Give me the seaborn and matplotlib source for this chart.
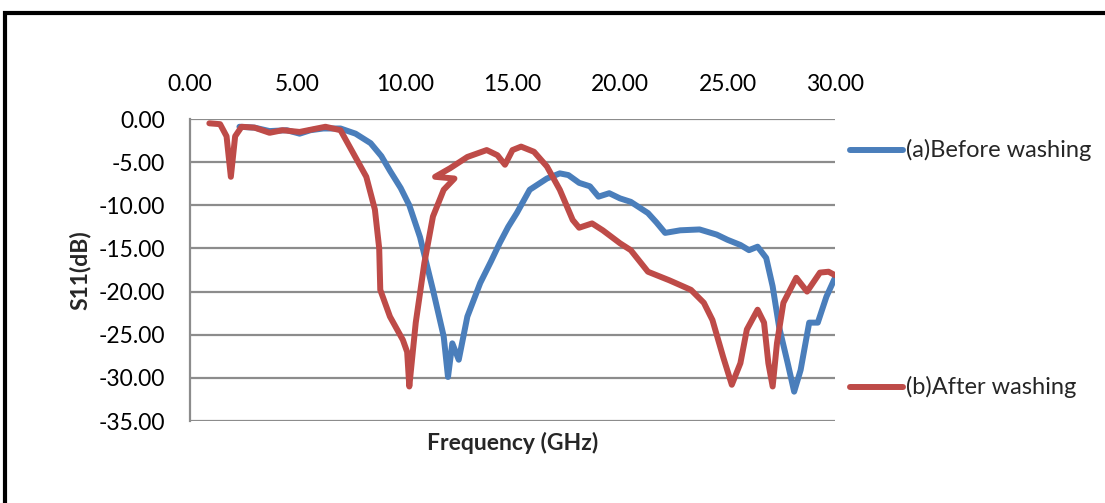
import matplotlib
matplotlib.use("Agg")
import matplotlib.pyplot as plt
from matplotlib.lines import Line2D
from matplotlib.patches import Rectangle
import seaborn as sns
import pandas as pd

before_freq = [2.3, 3.0, 3.7, 4.5, 5.1, 5.6, 6.2, 7.0, 7.7, 8.4, 8.9, 9.3, 9.8, 10.2,
               10.7, 11.3, 11.8, 12.0, 12.2, 12.5, 12.9, 13.5, 14.0, 14.4, 14.8, 15.2,
               15.8, 16.6, 17.2, 17.6, 18.1, 18.6, 19.0, 19.5, 20.0, 20.5, 21.3, 21.7,
               22.1, 22.8, 23.7, 24.5, 25.0, 25.6, 26.0, 26.4, 26.8, 27.1, 27.4, 27.8,
               28.1, 28.4, 28.8, 29.2, 29.6, 30.0]
before_s11 = [-0.9, -1.0, -1.4, -1.3, -1.7, -1.3, -1.1, -1.1, -1.7, -2.8, -4.3, -6.0, -8.0, -10.0,
              -13.7, -19.8, -25.2, -29.9, -26.0, -27.9, -22.9, -19.0, -16.5, -14.4, -12.5, -10.9,
              -8.2, -6.9, -6.3, -6.5, -7.4, -7.8, -9.0, -8.6, -9.2, -9.6, -10.9, -12.0,
              -13.2, -12.9, -12.8, -13.4, -14.0, -14.6, -15.2, -14.8, -16.1, -19.4, -24.1, -28.3,
              -31.6, -29.1, -23.6, -23.6, -20.6, -18.4]

after_freq = [0.9, 1.4, 1.7, 1.9, 2.1, 2.4, 3.0, 3.7, 4.3, 5.1, 5.7, 6.3, 7.0, 7.6, 8.2,
              8.6, 8.8, 8.85, 9.3, 9.9, 10.1, 10.2, 10.5, 10.9, 11.3, 11.8, 12.3, 11.4,
              12.1, 12.9, 13.8, 14.3, 14.65, 15.0, 15.4, 16.0, 16.6, 17.2, 17.8, 18.1,
              18.7, 19.2, 20.0, 20.5, 21.3, 22.3, 23.3, 23.9, 24.3, 24.8, 25.2, 25.6,
              25.9, 26.4, 26.7, 26.9, 27.1, 27.3, 27.6, 28.2, 28.7, 29.3, 29.7, 30.0]
after_s11 = [-0.5, -0.6, -2.0, -6.7, -2.0, -0.9, -1.0, -1.6, -1.3, -1.5, -1.2, -0.9, -1.3, -4.0, -6.7,
             -10.5, -15.0, -19.8, -22.9, -25.6, -27.0, -31.0, -23.6, -16.7, -11.3, -8.2, -6.9, -6.7,
             -5.7, -4.4, -3.6, -4.2, -5.3, -3.6, -3.2, -3.8, -5.5, -8.2, -11.7, -12.6,
             -12.1, -12.9, -14.4, -15.2, -17.7, -18.7, -19.8, -21.3, -23.3, -27.6, -30.8, -28.3,
             -24.4, -22.1, -23.6, -28.3, -31.0, -26.0, -21.3, -18.4, -20.0, -17.8, -17.7, -18.1]

series_names = ["(a)Before washing", "(b)After washing"]
x_ticks = [0, 5, 10, 15, 20, 25, 30]
y_ticks = [0, -5, -10, -15, -20, -25, -30, -35]

BLUE = "#4A7EBB"
RED = "#BE4B48"

df = pd.concat([
    pd.DataFrame({"f": before_freq, "s": before_s11, "series": series_names[0]}),
    pd.DataFrame({"f": after_freq, "s": after_s11, "series": series_names[1]}),
], ignore_index=True)

sns.set_style("white")
plt.rcParams['font.family'] = ['Lato', 'DejaVu Sans']

W, H = 1105, 503
fig = plt.figure(figsize=(W / 100, H / 100), dpi=100)
ax = fig.add_axes([190 / W, 1 - 421 / H, (835 - 190) / W, (421 - 119) / H])

sns.lineplot(data=df, x="f", y="s", hue="series", palette=[BLUE, RED], sort=False,
             estimator=None, units="series", ax=ax, linewidth=4.3, legend=False,
             solid_joinstyle="round", solid_capstyle="round", zorder=3)

FS = 16.5
ax.set_xlim(0, 30)
ax.set_ylim(-35, 0)
ax.set_xticks(x_ticks)
ax.set_yticks(y_ticks)
ax.set_xticklabels([f"{v:.2f}" for v in x_ticks])
ax.set_yticklabels([f"{v:.2f}" for v in y_ticks])
ax.xaxis.set_ticks_position("top")
ax.xaxis.set_label_position("bottom")
ax.tick_params(axis="x", length=0, pad=17, labelsize=FS, colors="black")
ax.tick_params(axis="y", length=0, pad=18, labelsize=FS, colors="black")
ax.yaxis.grid(True, color="#8c8c8c", linewidth=1.6)
ax.xaxis.grid(False)
for side in ["top", "right", "bottom"]:
    ax.spines[side].set_visible(False)
ax.spines["left"].set_color("#8c8c8c")
ax.spines["left"].set_linewidth(1.6)

ax.set_xlabel("Frequency (GHz)", fontsize=16.5, fontweight="bold")
ax.xaxis.set_label_coords(0.5, -0.035)
ax.set_ylabel("S11(dB)", fontsize=16.5, fontweight="bold", va="center")
ax.yaxis.set_label_coords(-0.171, 0.5)

# legend entries placed beside chart (Excel style)
for col, name, ypix in [(BLUE, series_names[0], 150), (RED, series_names[1], 387)]:
    yf = 1 - ypix / H
    fig.add_artist(Line2D([850 / W, 903 / W], [yf, yf], color=col, linewidth=4.3,
                          solid_capstyle="round", transform=fig.transFigure))
    fig.text(906 / W, yf, name, fontsize=17, va="center", ha="left")

# outer frame (chart border)
fig.add_artist(Rectangle((5 / W, -0.05), 1.2, 1 - 13 / H + 0.05, transform=fig.transFigure,
                         fill=False, edgecolor="black", linewidth=3))

fig.savefig("out.png", dpi=100)
